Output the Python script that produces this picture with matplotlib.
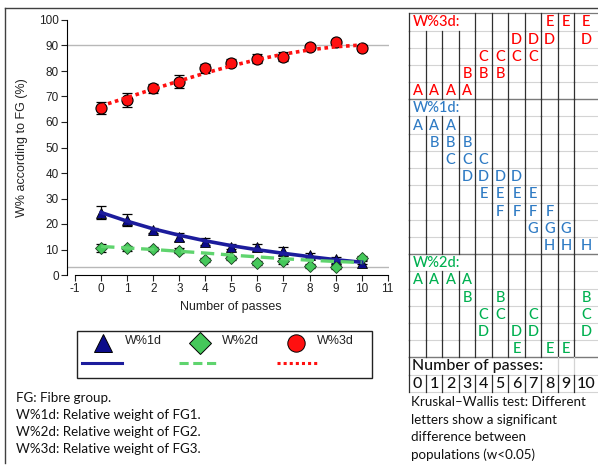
import matplotlib
matplotlib.use("Agg")
import matplotlib.pyplot as plt
import numpy as np

plt.rcParams["axes.unicode_minus"] = False

# ---- data ----
passes = np.arange(11)

w1 = [24.4, 21.6, 17.6, 15.0, 13.1, 11.1, 10.8, 9.4, 7.8, 6.1, 4.8]
w1_err = [2.5, 2.5, 1.0, 1.5, 1.3, 1.0, 1.3, 1.5, 1.0, 0.8, 0.5]
w1_fit = [24.5, 21.1, 18.1, 15.6, 13.4, 11.5, 9.9, 8.5, 7.2, 6.0, 5.0]

w2 = [10.5, 10.4, 10.3, 9.5, 6.0, 6.5, 4.6, 5.5, 3.7, 3.0, 6.5]
w2_err = [1.5, 1.0, 0.8, 1.0, 0.8, 0.8, 0.8, 1.0, 0.8, 0.8, 0.8]
w2_fit = [11.2, 10.6, 10.0, 9.3, 8.6, 7.8, 7.1, 6.4, 5.8, 5.3, 4.9]

w3 = [65.6, 68.6, 73.2, 75.8, 81.0, 83.3, 84.9, 85.6, 89.5, 91.2, 89.1]
w3_err = [2.4, 2.9, 1.8, 2.5, 1.9, 1.5, 1.8, 1.8, 1.0, 1.0, 1.0]
w3_fit = [66.3, 69.6, 72.9, 76.1, 79.2, 82.0, 84.5, 86.6, 88.3, 89.5, 90.2]

ref_lines = [90, 3]

# Kruskal-Wallis letter groups per pass
kw_w3 = ["A", "A", "A", "AB", "BC", "BC", "CD", "CD", "DE", "E", "DE"]
kw_w1 = ["A", "AB", "ABC", "BCD", "CDE", "DEF", "DEF", "EFG", "FGH", "GH", "H"]
kw_w2 = ["A", "A", "A", "AB", "CD", "BC", "DE", "CD", "E", "E", "BCD"]

notes = [
    "FG: Fibre group.",
    "W%1d: Relative weight of FG1.",
    "W%2d: Relative weight of FG2.",
    "W%3d: Relative weight of FG3.",
]
kw_note = [
    "Kruskal\u2013Wallis test: Different",
    "letters show a significant",
    "difference between",
    "populations (w<0.05)",
]

C_NAVY = "#0c0c8a"
C_NAVY_LINE = "#1c1c9c"
C_GREEN = "#45c85a"
C_GREEN_LINE = "#5fd46e"
C_RED = "#ff1010"
T_RED = "#ff0000"
T_BLUE = "#2f7bc4"
T_GREEN = "#00b050"

CHART_FONT = "Liberation Sans"
TEXT_FONT = "Lato"

W, H = 598, 466
fig = plt.figure(figsize=(W / 100, H / 100), dpi=100)

# background overlay in pixel coordinates
bg = fig.add_axes([0, 0, 1, 1])
bg.set_xlim(0, W)
bg.set_ylim(H, 0)
bg.axis("off")

# outer frame
bg.plot([5, W], [8, 8], color="#404040", lw=1.0)
bg.plot([5, 5], [8, 463], color="#404040", lw=1.0)

# ---- main chart ----
ax = fig.add_axes([67 / W, (H - 275) / H, (389 - 67) / W, 255 / H])
ax.set_xlim(-1.31, 11.05)
ax.set_ylim(0, 100)
for y in ref_lines:
    ax.axhline(y, color="#b8b8b8", lw=1.0, zorder=1)

ax.errorbar(passes, w3, yerr=w3_err, fmt="none", ecolor="black", elinewidth=0.9,
            capsize=3.5, capthick=0.9, zorder=2)
ax.errorbar(passes, w1, yerr=w1_err, fmt="none", ecolor="black", elinewidth=0.9,
            capsize=3.5, capthick=0.9, zorder=2)
ax.errorbar(passes, w2, yerr=w2_err, fmt="none", ecolor="black", elinewidth=0.9,
            capsize=3.5, capthick=0.9, zorder=2)

ax.plot(passes, w3, "o", color=C_RED, mec="black", mew=0.8, ms=8, zorder=3)
ax.plot(passes, w1, "^", color=C_NAVY, mec="black", mew=0.6, ms=7, zorder=3)
ax.plot(passes, w2, "D", color=C_GREEN, mec="#1a4020", mew=0.6, ms=6, zorder=3)

ax.plot(passes, w3_fit, color=C_RED, lw=2.6, linestyle=(0, (1, 1)), zorder=4)
ax.plot(passes, w1_fit, color=C_NAVY_LINE, lw=2.6, zorder=4)
ax.plot(passes, w2_fit, color=C_GREEN_LINE, lw=2.4, linestyle=(0, (4, 2)), zorder=4)

ax.spines["top"].set_visible(False)
ax.spines["right"].set_visible(False)
ax.spines["bottom"].set_bounds(-1, 11)
ax.set_xticks(np.arange(-1, 12))
ax.set_yticks(np.arange(0, 101, 10))
ax.tick_params(axis="both", direction="out", length=4, width=0.8, colors="#222222",
               labelsize=8.5, pad=2)
for lab in ax.get_xticklabels() + ax.get_yticklabels():
    lab.set_fontfamily(CHART_FONT)
ax.set_ylabel("W% according to FG (%)", fontsize=9, family=CHART_FONT, color="#222222",
              labelpad=8)
ax.patch.set_alpha(0)

bg.text(231, 307, "Number of passes", ha="center", va="center", fontsize=9,
        family=CHART_FONT, color="#222222")

# ---- legend box ----
bg.add_patch(plt.Rectangle((77, 331), 295, 47, fill=False, ec="#222222", lw=1.0))
leg_items = [
    ("^", C_NAVY, 13, "W%1d", C_NAVY_LINE, "-", 103, 125, 82, 122),
    ("D", C_GREEN, 11, "W%2d", C_GREEN_LINE, (0, (3, 1.5)), 200, 222, 179, 219),
    ("o", C_RED, 12.5, "W%3d", C_RED, (0, (1, 1)), 296, 317, 277, 317),
]
for mk, col, ms, lab, lcol, ls, mx, tx, l0, l1 in leg_items:
    bg.plot([mx], [343], mk, color=col, mec="black", mew=0.7, ms=ms)
    bg.text(tx, 341, lab, ha="left", va="center", fontsize=9, family=CHART_FONT,
            color="#222222")
    bg.plot([l0, l1], [363, 363], color=lcol, lw=2.2, linestyle=ls)

# ---- footnotes ----
for i, line in enumerate(notes):
    bg.text(16, 398 + 17 * i, line, ha="left", va="center", fontsize=9.6,
            family=TEXT_FONT, color="#111111")

# ---- Kruskal-Wallis table ----
x0, cw = 409.3, 16.5
col_edges = [x0 + cw * k for k in range(11)] + [W]
col_centers = [(col_edges[k] + col_edges[k + 1]) / 2 for k in range(11)]
top, rh = 13.3, 17.2
n_rows = 22
row_top = [top + rh * r for r in range(n_rows + 1)]

sections = [  # (label, colour, start row, rows, letter order, groups, header offset)
    ("W%3d:", T_RED, 0, 5, "EDCBA", kw_w3, 0),
    ("W%1d:", T_BLUE, 5, 9, "ABCDEFGH", kw_w1, 1),
    ("W%2d:", T_GREEN, 14, 6, "ABCDE", kw_w2, 1),
]
header_rows = {0, 5, 14}
passes_row, digits_row = 20, 21

# horizontal lines
for r, y in enumerate(row_top):
    if r in (5, 14, 20):
        c, lw = "#7a7a7a", 1.0
    elif r == 0:
        c, lw = "#7a7a7a", 0.9
    else:
        c, lw = "#d4d4d4", 0.8
    bg.plot([x0, W], [y, y], color=c, lw=lw, zorder=1)

# vertical lines
for k, x in enumerate(col_edges[:-1]):
    for r in range(n_rows):
        if r in header_rows and k in (1, 2, 3):
            continue
        if r == passes_row and 1 <= k <= 8:
            continue
        c = "#d4d4d4" if (r == passes_row and k > 0) else "#303030"
        bg.plot([x, x], [row_top[r], row_top[r + 1]], color=c, lw=0.9, zorder=2)

for label, col, start, nr, order, groups, offset in sections:
    bg.text(x0 + 3, row_top[start] + rh / 2 + 0.5, label, ha="left", va="center",
            fontsize=10.5, family=TEXT_FONT, weight="medium", color=col, zorder=3)
    for p, grp in enumerate(groups):
        for letter in grp:
            r = start + order.index(letter) + offset
            bg.text(col_centers[p], row_top[r] + rh / 2 + 0.5, letter, ha="center",
                    va="center", fontsize=10.5, family=TEXT_FONT, weight="medium",
                    color=col, zorder=3)

bg.text(x0 + 3, row_top[passes_row] + rh / 2 + 0.5, "Number of passes:", ha="left",
        va="center", fontsize=11.5, family=TEXT_FONT, weight="medium", color="#111111",
        zorder=3)
for p in passes:
    bg.text(col_centers[p], row_top[digits_row] + rh / 2 + 0.5, str(p), ha="center",
            va="center", fontsize=11.5, family=TEXT_FONT, weight="medium",
            color="#111111", zorder=3)

for i, line in enumerate(kw_note):
    bg.text(411, 402 + 17.5 * i, line, ha="left", va="center", fontsize=9.6,
            family=TEXT_FONT, color="#111111")

fig.savefig("out.png", dpi=100)
plt.close(fig)
